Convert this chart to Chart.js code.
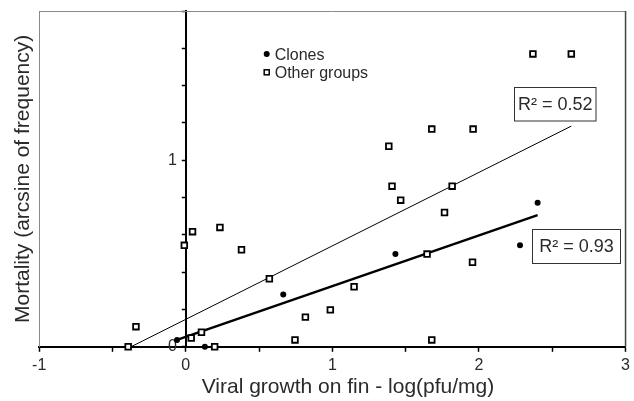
<!DOCTYPE html>
<html><head><meta charset="utf-8">
<script src="https://cdn.jsdelivr.net/npm/chart.js@4.4.0/dist/chart.umd.min.js"></script>
<style>html,body{margin:0;padding:0;background:#fff}#wrap{width:634px;height:401px;position:relative}canvas{display:block}</style>
</head><body><div id="wrap"><canvas id="c" width="634" height="401" style="width:634px;height:401px"></canvas></div>
<script>
// ---- data ----
const clonesX = [-0.06, 0.13, 0.665, 1.43, 2.28, 2.40];
const clonesY = [0.037, 0.0, 0.28, 0.497, 0.545, 0.772];

const otherX = [-0.393, -0.34, -0.01, 0.046, 0.233, 0.38, 0.57, 0.037, 0.107, 0.197, 0.745, 0.816, 0.986,
                1.148, 1.407, 1.466, 1.817, 1.765, 1.646, 1.956, 1.678, 2.368, 2.63, 1.678, 1.96, 1.385];
const otherY = [0.0, 0.108, 0.544, 0.617, 0.64, 0.52, 0.365, 0.047, 0.078, 0.0, 0.037, 0.159, 0.198,
                0.322, 0.861, 0.786, 0.861, 0.72, 0.497, 0.453, 0.037, 1.57, 1.57, 1.167, 1.167, 1.075];

// fitted trend lines (end points)
const otherFitX = [-0.374, 2.63];
const otherFitY = [0.0, 1.183];
const cloneFitX = [-0.06, 2.40];
const cloneFitY = [0.037, 0.706];

const seriesNames = ['Clones', 'Other groups'];
const xTickLabels = {'-1': '-1', '0': '0', '1': '1', '2': '2', '3': '3'};
const yTickLabels = {'0': '0', '1': '1'};
const r2Labels = ['R\u00B2 = 0.52', 'R\u00B2 = 0.93'];
const xTitle = 'Viral growth on fin - log(pfu/mg)';
const yTitle = 'Mortality (arcsine of frequency)';

// ---- build ----
const pts = (xs, ys) => xs.map((x, i) => ({x: x, y: ys[i]}));
const FONT = "'Liberation Sans', Arial, Helvetica, sans-serif";
const TXT = '#2a2a2a';

const layoutCfg = {
  legend: {dx: 227.5, dy: 43, gap: 18.3, textDx: 8, size: 16},
  boxes: [
    {x1: 514, y1: 87, x2: 595.5, y2: 120.5},
    {x1: 532, y1: 229, x2: 620, y2: 263}
  ],
  xTitleCenter: 348, xTitleY: 387,
  yAxisAtX: 0
};

const decor = {
  id: 'decor',
  afterLayout(chart) {
    // put the inner value axis on x = 0 of the x scale
    const s = chart.scales.y2;
    const px = chart.scales.x.getPixelForValue(layoutCfg.yAxisAtX);
    s.left = px - 40; s.right = px; s.width = 40;
    s._labelItems = null; s._gridLineItems = null;
  },
  beforeDatasetsDraw(chart) {
    const {ctx, chartArea: a} = chart;
    ctx.save();
    ctx.lineWidth = 1;
    ctx.strokeStyle = '#8a8a8a';
    ctx.beginPath(); ctx.moveTo(a.left, a.top + 0.5); ctx.lineTo(a.right, a.top + 0.5); ctx.stroke();
    ctx.strokeStyle = '#444';
    ctx.lineWidth = 1.5;
    ctx.beginPath(); ctx.moveTo(a.right, a.top); ctx.lineTo(a.right, a.bottom); ctx.stroke();
    ctx.restore();
  },
  afterDraw(chart) {
    const {ctx, chartArea: a} = chart;
    ctx.save();
    const L = layoutCfg.legend;
    const lx = a.left + L.dx, ly = a.top + L.dy;
    ctx.font = L.size + 'px ' + FONT;
    ctx.textBaseline = 'middle';
    ctx.textAlign = 'left';
    ctx.fillStyle = '#000';
    ctx.beginPath(); ctx.arc(lx, ly, 3, 0, Math.PI * 2); ctx.fill();
    ctx.fillStyle = TXT;
    ctx.fillText(seriesNames[0], lx + L.textDx, ly + 1.5);
    ctx.strokeStyle = '#000'; ctx.lineWidth = 1.5;
    ctx.strokeRect(lx - 2.5, ly + L.gap - 2.5, 5, 5);
    ctx.fillText(seriesNames[1], lx + L.textDx, ly + L.gap + 1);
    ctx.font = '18px ' + FONT;
    ctx.textAlign = 'center';
    ctx.strokeStyle = '#333'; ctx.lineWidth = 1;
    layoutCfg.boxes.forEach((b, i) => {
      ctx.fillStyle = '#fff';
      ctx.fillRect(b.x1, b.y1, b.x2 - b.x1, b.y2 - b.y1);
      ctx.strokeRect(b.x1 + 0.5, b.y1 + 0.5, b.x2 - b.x1, b.y2 - b.y1);
      ctx.fillStyle = TXT;
      ctx.fillText(r2Labels[i], (b.x1 + b.x2) / 2 + 0.5, (b.y1 + b.y2) / 2 + 1.5);
    });
    ctx.font = '21px ' + FONT;
    ctx.fillStyle = TXT;
    ctx.fillText(xTitle, layoutCfg.xTitleCenter, layoutCfg.xTitleY);
    ctx.restore();
  }
};

const near = (v, t) => Math.abs(v - t) < 1e-6;

new Chart(document.getElementById('c'), {
  type: 'scatter',
  data: {
    datasets: [
      {label: seriesNames[0], data: pts(clonesX, clonesY), pointStyle: 'circle', pointRadius: 3,
       backgroundColor: '#000', borderColor: '#000', borderWidth: 0, order: 0, clip: false},
      {label: seriesNames[1], data: pts(otherX, otherY), pointStyle: 'rect', pointRadius: 4,
       backgroundColor: '#fff', borderColor: '#000', borderWidth: 1.8, order: 0, clip: false},
      {type: 'line', label: 'fitOther', data: pts(otherFitX, otherFitY), showLine: true, pointRadius: 0,
       borderColor: '#000', borderWidth: 1, fill: false, order: 1},
      {type: 'line', label: 'fitClones', data: pts(cloneFitX, cloneFitY), showLine: true, pointRadius: 0,
       borderColor: '#000', borderWidth: 2.5, fill: false, order: 1}
    ]
  },
  options: {
    responsive: false,
    animation: false,
    devicePixelRatio: 1,
    layout: {padding: {left: 9, right: 8, top: 11, bottom: 22}},
    plugins: {legend: {display: false}, tooltip: {enabled: false}},
    scales: {
      x: {
        type: 'linear', position: 'bottom', min: -1, max: 3,
        ticks: {stepSize: 0.5, autoSkip: false, maxRotation: 0, padding: 4, color: TXT,
                font: {size: 16, family: FONT},
                callback: (v) => { for (const k in xTickLabels) if (near(v, +k)) return xTickLabels[k]; return ''; }},
        grid: {drawOnChartArea: false, drawTicks: true, tickLength: 5, tickColor: '#000', tickWidth: 1.5},
        border: {display: true, color: '#000', width: 2}
      },
      y: {
        type: 'linear', position: 'left', weight: 10, min: 0, max: 1.8,
        ticks: {display: false},
        grid: {drawOnChartArea: false, drawTicks: false},
        border: {display: true, color: '#8a8a8a', width: 1},
        title: {display: true, text: yTitle, color: TXT, font: {size: 21, family: FONT}, padding: {top: 2, bottom: 3}}
      },
      y2: {
        type: 'linear', position: 'left', weight: 0, min: 0, max: 1.8,
        afterFit: (s) => { s.width = 0; s.paddingTop = 0; s.paddingBottom = 0; },
        ticks: {stepSize: 0.2, autoSkip: false, padding: 5, color: TXT, font: {size: 16, family: FONT},
                callback: (v) => { for (const k in yTickLabels) if (near(v, +k)) return yTickLabels[k]; return ''; }},
        grid: {drawOnChartArea: false, drawTicks: true, tickLength: 4, tickColor: '#000', tickWidth: 1.5},
        border: {display: true, color: '#000', width: 2}
      }
    }
  },
  plugins: [decor]
});
</script>
</body></html>
